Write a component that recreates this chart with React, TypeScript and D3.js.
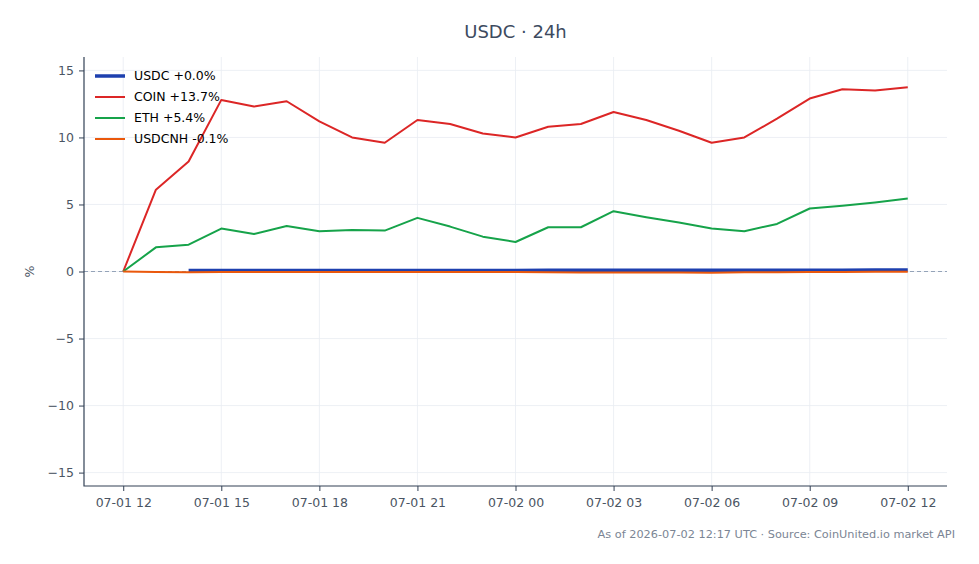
import React, { useRef, useEffect } from "react";
import * as d3 from "d3";

// hourly points, 07-01 12:00 .. 07-02 12:00 (hours since start)
const hours = d3.range(0, 25);
const coin = [0, 6.1, 8.2, 12.8, 12.3, 12.7, 11.2, 10.0, 9.6, 11.3, 11.0, 10.3, 10.0, 10.8, 11.0, 11.9, 11.3, 10.5, 9.6, 10.0, 11.4, 12.9, 13.6, 13.5, 13.75];
const eth = [0, 1.8, 2.0, 3.2, 2.8, 3.4, 3.0, 3.1, 3.05, 4.0, 3.35, 2.6, 2.2, 3.3, 3.3, 4.5, 4.05, 3.65, 3.2, 3.0, 3.55, 4.7, 4.9, 5.15, 5.45];
const usdc = [null, null, 0.08, 0.08, 0.08, 0.08, 0.08, 0.08, 0.08, 0.08, 0.08, 0.08, 0.08, 0.09, 0.09, 0.09, 0.09, 0.09, 0.09, 0.09, 0.1, 0.1, 0.1, 0.12, 0.12];
const usdcnh = [0, -0.03, -0.05, -0.03, -0.03, -0.03, -0.03, -0.03, -0.03, -0.03, -0.03, -0.03, -0.04, -0.06, -0.07, -0.08, -0.08, -0.08, -0.09, -0.06, -0.05, -0.04, -0.03, -0.02, -0.02];
const xTickHours = [0, 3, 6, 9, 12, 15, 18, 21, 24];
const xTickLabels = ["07-01 12", "07-01 15", "07-01 18", "07-01 21", "07-02 00", "07-02 03", "07-02 06", "07-02 09", "07-02 12"];
const yTicks = [-15, -10, -5, 0, 5, 10, 15];

const series = [
  { name: "USDC +0.0%", values: usdc, color: "#1e40af", width: 3.5 },
  { name: "COIN +13.7%", values: coin, color: "#dc2626", width: 2 },
  { name: "ETH +5.4%", values: eth, color: "#16a34a", width: 2 },
  { name: "USDCNH -0.1%", values: usdcnh, color: "#ea580c", width: 2 },
];

const W = 979, H = 564;
const m = { top: 57, right: 32, bottom: 78, left: 84 };
const FONT = "'DejaVu Sans', sans-serif";

const App = () => {
  const ref = useRef<SVGSVGElement>(null);

  useEffect(() => {
    if (!ref.current) return;
    const svg = d3.select(ref.current);
    svg.selectAll("*").remove();

    const x = d3.scaleLinear().domain([-1.2, 25.2]).range([m.left, W - m.right]);
    const y = d3.scaleLinear().domain([-16, 16]).range([H - m.bottom, m.top]);

    svg.append("rect").attr("width", W).attr("height", H).attr("fill", "#fff");

    // grid
    const grid = svg.append("g").attr("stroke", "#e8ecf2").attr("stroke-width", 0.8);
    xTickHours.forEach((h) =>
      grid.append("line").attr("x1", x(h)).attr("x2", x(h)).attr("y1", m.top).attr("y2", H - m.bottom)
    );
    yTicks.forEach((v) =>
      grid.append("line").attr("x1", m.left).attr("x2", W - m.right).attr("y1", y(v)).attr("y2", y(v))
    );

    // zero reference
    svg
      .append("line")
      .attr("x1", m.left)
      .attr("x2", W - m.right)
      .attr("y1", y(0))
      .attr("y2", y(0))
      .attr("stroke", "#94a3b8")
      .attr("stroke-width", 1)
      .attr("stroke-dasharray", "4,3");

    const line = d3
      .line<number | null>()
      .defined((d) => d !== null)
      .x((_, i) => x(hours[i]))
      .y((d) => y(d as number));

    series.forEach((s) => {
      svg
        .append("path")
        .datum(s.values)
        .attr("fill", "none")
        .attr("stroke", s.color)
        .attr("stroke-width", s.width)
        .attr("stroke-linejoin", "round")
        .attr("d", line as any);
    });

    // axes
    const xAxis = svg
      .append("g")
      .attr("transform", `translate(0,${H - m.bottom})`)
      .call(
        d3
          .axisBottom(x)
          .tickValues(xTickHours)
          .tickFormat((_, i) => xTickLabels[i])
          .tickSize(5)
          .tickPadding(7)
      );
    const yAxis = svg
      .append("g")
      .attr("transform", `translate(${m.left},0)`)
      .call(
        d3
          .axisLeft(y)
          .tickValues(yTicks)
          .tickFormat((d) => `${+d < 0 ? "\u2212" : ""}${Math.abs(+d)}`)
          .tickSize(5)
          .tickPadding(5)
      );
    [xAxis, yAxis].forEach((g) => {
      g.select(".domain").remove();
      g.selectAll(".tick line").attr("stroke", "#334155");
      g.selectAll(".tick text")
        .attr("fill", "#4b5563")
        .style("font-family", FONT)
        .style("font-size", "12.5px");
    });

    // spines (left + bottom only)
    const spines = svg.append("g").attr("stroke", "#334155").attr("stroke-width", 1.2).attr("fill", "none");
    spines
      .append("path")
      .attr("d", `M${m.left},${m.top}V${H - m.bottom}H${W - m.right}`);

    svg
      .append("text")
      .attr("transform", `translate(34,${y(0)}) rotate(-90)`)
      .attr("text-anchor", "middle")
      .attr("fill", "#4b5563")
      .style("font-family", FONT)
      .style("font-size", "12.5px")
      .text("%");

    // title
    svg
      .append("text")
      .attr("x", (m.left + W - m.right) / 2)
      .attr("y", 38)
      .attr("text-anchor", "middle")
      .attr("fill", "#3d4b5f")
      .style("font-family", FONT)
      .style("font-size", "18px")
      .text("USDC \u00b7 24h");

    // legend
    const lg = svg.append("g").attr("transform", `translate(95,76)`);
    series.forEach((s, i) => {
      const row = lg.append("g").attr("transform", `translate(0,${i * 21})`);
      row
        .append("line")
        .attr("x1", 0)
        .attr("x2", 30)
        .attr("stroke", s.color)
        .attr("stroke-width", s.width);
      row
        .append("text")
        .attr("x", 39)
        .attr("dy", "0.35em")
        .attr("fill", "#000")
        .style("font-family", FONT)
        .style("font-size", "12.5px")
        .text(s.name);
    });

    // footer
    svg
      .append("text")
      .attr("x", 955)
      .attr("y", 538)
      .attr("text-anchor", "end")
      .attr("fill", "#7b8594")
      .style("font-family", FONT)
      .style("font-size", "11.3px")
      .text("As of 2026-07-02 12:17 UTC \u00b7 Source: CoinUnited.io market API");
  }, []);

  return (
    <svg
      ref={ref}
      width={W}
      height={H}
      style={{ position: "absolute", left: 0, top: 0, display: "block" }}
    />
  );
};

export default App;
